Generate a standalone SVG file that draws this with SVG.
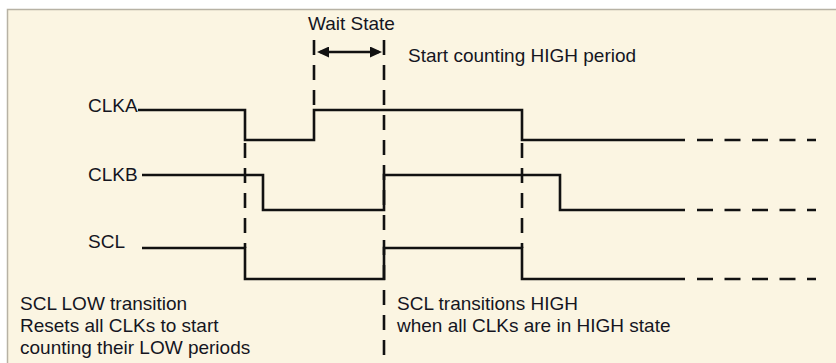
<svg xmlns="http://www.w3.org/2000/svg" width="836" height="363" viewBox="0 0 836 363">
<defs>
<style>
.bg{fill:#fbf5e2}
.frame{fill:none;stroke:#b7b2a4;stroke-width:1.5}
.sig{fill:none;stroke:#111;stroke-width:2.6;stroke-linejoin:miter;stroke-linecap:butt}
.dash{fill:none;stroke:#111;stroke-width:2.6;stroke-dasharray:15 10}
.hdash{fill:none;stroke:#111;stroke-width:2.6;stroke-dasharray:16 11.5}
.arrow{fill:none;stroke:#111;stroke-width:2.6}
text{font-family:"Liberation Sans",Arial,Helvetica,sans-serif;font-size:19px;fill:#15151f}
</style>
<marker id="ah" viewBox="0 0 12 11" refX="9" refY="5.5" markerWidth="12" markerHeight="11" markerUnits="userSpaceOnUse" orient="auto-start-reverse">
<path d="M0,0 L12,5.5 L0,11 Z" fill="#111"/>
</marker>
</defs>
<rect x="0" y="0" width="836" height="363" fill="#ffffff"/>
<rect class="bg" x="7" y="9" width="829" height="354"/>
<path class="frame" d="M7.5,363 V9.5 H836"/>

<g id="connectors">
<path class="dash" d="M245,143 V248"/>
<path class="dash" d="M314,40 V110"/>
<path class="dash" d="M384,40 V356"/>
<path class="dash" d="M522,143 V248"/>
<path class="arrow" d="M320,52 H379" marker-start="url(#ah)" marker-end="url(#ah)"/>
</g>

<g id="clka">
<text x="88" y="112">CLKA</text>
<path class="sig" d="M138,110 H245 V140 H314 V110 H522 V140 H685"/>
<path class="hdash" d="M697,140 H816"/>
</g>

<g id="clkb">
<text x="88" y="181">CLKB</text>
<path class="sig" d="M142,175 H263 V210 H384 V175 H560 V210 H685"/>
<path class="hdash" d="M697,210 H816"/>
</g>

<g id="scl">
<text x="88" y="248">SCL</text>
<path class="sig" d="M142,248 H245 V279 H384 V248 H522 V279 H685"/>
<path class="hdash" d="M697,279 H816"/>
</g>

<g id="labels">
<text x="308" y="30">Wait State</text>
<text x="408" y="62">Start counting HIGH period</text>
<text x="20" y="310">SCL LOW transition</text>
<text x="20" y="332">Resets all CLKs to start</text>
<text x="20" y="354">counting their LOW periods</text>
<text x="397" y="310">SCL transitions HIGH</text>
<text x="397" y="332">when all CLKs are in HIGH state</text>
</g>
</svg>
